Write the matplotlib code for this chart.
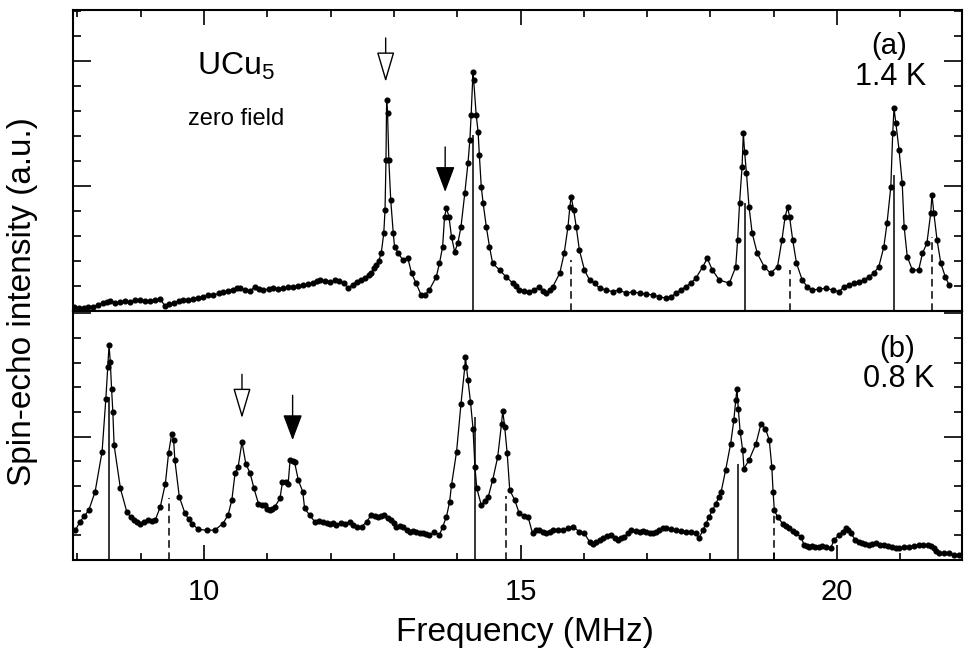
import matplotlib
matplotlib.use('Agg')
import matplotlib.pyplot as plt
from matplotlib.ticker import MultipleLocator

plt.rcParams['font.family'] = ['Liberation Sans', 'DejaVu Sans']
plt.rcParams['mathtext.fontset'] = 'custom'
plt.rcParams['mathtext.rm'] = 'Liberation Sans'

# (a) 1.4 K zero-field spectrum
top_freq = [7.94, 8.02, 8.10, 8.17, 8.25, 8.33, 8.41, 8.47, 8.52, 8.60, 8.67, 8.75,
            8.83, 8.91, 8.99, 9.07, 9.15, 9.23, 9.31, 9.38, 9.45, 9.52, 9.60, 9.67,
            9.75, 9.83, 9.91, 9.99, 10.07, 10.15, 10.23, 10.30, 10.38, 10.46, 10.52,
            10.57, 10.65, 10.73, 10.80, 10.87, 10.94, 11.02, 11.09, 11.17, 11.25, 11.33,
            11.41, 11.49, 11.57, 11.65, 11.72, 11.78, 11.83, 11.91, 11.99, 12.07, 12.14,
            12.21, 12.28, 12.35, 12.41, 12.48, 12.54, 12.60, 12.64, 12.68, 12.72, 12.76,
            12.80, 12.84, 12.86, 12.875, 12.885, 12.90, 12.92, 12.95, 12.99, 13.01, 13.07,
            13.14, 13.22, 13.28, 13.35, 13.43, 13.49, 13.56, 13.67, 13.72, 13.77, 13.80,
            13.83, 13.87, 13.91, 13.96, 14.01, 14.06, 14.12, 14.17, 14.20, 14.22, 14.25,
            14.26, 14.30, 14.33, 14.35, 14.38, 14.41, 14.46, 14.51, 14.56, 14.67, 14.77,
            14.88, 14.93, 14.98, 15.06, 15.14, 15.22, 15.30, 15.36, 15.41, 15.46, 15.51,
            15.62, 15.69, 15.75, 15.78, 15.80, 15.84, 15.88, 15.93, 16.01, 16.09, 16.17,
            16.25, 16.35, 16.46, 16.56, 16.67, 16.77, 16.88, 16.98, 17.09, 17.19, 17.30,
            17.38, 17.46, 17.53, 17.61, 17.69, 17.77, 17.88, 17.95, 18.03, 18.14, 18.30,
            18.40, 18.43, 18.46, 18.50, 18.52, 18.54, 18.57, 18.61, 18.66, 18.74, 18.85,
            18.95, 19.06, 19.13, 19.18, 19.22, 19.25, 19.30, 19.36, 19.45, 19.53, 19.61,
            19.72, 19.82, 19.93, 20.03, 20.11, 20.19, 20.27, 20.35, 20.43, 20.50, 20.58,
            20.66, 20.74, 20.79, 20.85, 20.88, 20.90, 20.93, 20.98, 21.03, 21.06, 21.11,
            21.19, 21.29, 21.35, 21.42, 21.48, 21.50, 21.53, 21.58, 21.64, 21.71, 21.77]
top_int = [0.17, 0.12, 0.13, 0.16, 0.17, 0.24, 0.31, 0.36, 0.40, 0.33, 0.35, 0.38,
           0.37, 0.42, 0.44, 0.39, 0.40, 0.45, 0.48, 0.21, 0.27, 0.31, 0.38, 0.44,
           0.43, 0.48, 0.53, 0.57, 0.62, 0.64, 0.70, 0.75, 0.80, 0.84, 0.90,
           0.91, 0.85, 0.80, 0.97, 0.86, 0.84, 0.88, 0.91, 0.89, 0.91, 0.95,
           0.97, 1.01, 1.04, 1.08, 1.11, 1.18, 1.24, 1.20, 1.17, 1.22, 1.20,
           1.10, 0.93, 1.05, 1.17, 1.24, 1.31, 1.45, 1.51, 1.70, 1.84, 2.00,
           2.31, 3.11, 4.04, 6.04, 8.44, 7.91, 6.04, 4.44, 3.11, 2.57, 2.31,
           2.04, 2.11, 1.51, 1.11, 0.64, 0.64, 0.84, 1.37, 1.91, 2.57, 3.77,
           4.11, 3.77, 2.97, 2.37, 2.71, 3.37, 4.71, 5.91, 6.84, 7.84, 9.57,
           9.24, 7.84, 7.17, 6.24, 4.97, 4.31, 3.37, 2.57, 1.91, 1.64, 1.37,
           1.11, 0.98, 0.84, 0.80, 0.77, 0.85, 0.97, 0.80, 0.71, 0.82, 0.97,
           1.51, 2.31, 3.37, 4.17, 4.57, 4.04, 3.37, 2.44, 1.64, 1.24, 1.11,
           0.91, 0.84, 0.77, 0.84, 0.71, 0.77, 0.71, 0.68, 0.64, 0.57, 0.51,
           0.57, 0.71, 0.84, 0.97, 1.11, 1.31, 1.77, 2.11, 1.64, 1.24, 1.11,
           1.77, 2.84, 4.31, 5.77, 7.11, 6.37, 5.51, 4.17, 3.11, 2.31, 1.77,
           1.51, 1.77, 2.84, 3.77, 4.15, 3.77, 2.84, 1.91, 1.24, 0.97, 0.84,
           0.87, 0.91, 0.84, 0.77, 0.97, 1.04, 1.11, 1.17, 1.24, 1.37, 1.51,
           1.77, 2.57, 3.51, 4.97, 7.11, 8.11, 7.51, 6.44, 5.11, 3.37, 2.17,
           1.64, 1.64, 2.31, 2.71, 3.91, 4.64, 3.91, 2.84, 1.91, 1.37, 1.04]

top_solid_f = [14.25, 18.55, 20.90]
top_solid_h = [7.04, 4.32, 5.44]
top_dashed_f = [15.80, 19.25, 21.50]
top_dashed_h = [2.04, 1.64, 2.96]

# (b) 0.8 K spectrum
bot_freq = [7.97, 8.04, 8.11, 8.18, 8.28, 8.39, 8.45, 8.48, 8.50, 8.52, 8.54, 8.56,
            8.58, 8.68, 8.78, 8.84, 8.89, 8.94, 8.99, 9.05, 9.12, 9.18, 9.23, 9.31,
            9.39, 9.44, 9.49, 9.52, 9.54, 9.61, 9.70, 9.76, 9.81, 9.91, 10.04, 10.17,
            10.30, 10.38, 10.44, 10.49, 10.54, 10.60, 10.66, 10.73, 10.79, 10.86, 10.91,
            10.96, 11.00, 11.04, 11.08, 11.12, 11.20, 11.24, 11.29, 11.33, 11.36, 11.40,
            11.43, 11.49, 11.56, 11.59, 11.67, 11.75, 11.81, 11.88, 11.94, 11.99, 12.04,
            12.09, 12.17, 12.23, 12.30, 12.36, 12.41, 12.49, 12.57, 12.64, 12.70, 12.75,
            12.80, 12.85, 12.91, 12.96, 13.00, 13.04, 13.09, 13.14, 13.20, 13.25, 13.30,
            13.35, 13.41, 13.46, 13.51, 13.56, 13.64, 13.72, 13.77, 13.83, 13.88, 13.91,
            13.99, 14.06, 14.12, 14.13, 14.17, 14.21, 14.25, 14.28, 14.31, 14.38, 14.44,
            14.49, 14.56, 14.64, 14.70, 14.72, 14.75, 14.79, 14.83, 14.91, 14.98, 15.05,
            15.12, 15.19, 15.25, 15.30, 15.36, 15.41, 15.46, 15.51, 15.59, 15.67, 15.75,
            15.83, 15.93, 16.01, 16.09, 16.14, 16.19, 16.25, 16.30, 16.37, 16.43, 16.49,
            16.54, 16.59, 16.64, 16.70, 16.75, 16.82, 16.88, 16.93, 16.98, 17.04, 17.09,
            17.14, 17.19, 17.25, 17.30, 17.38, 17.46, 17.54, 17.61, 17.69, 17.77, 17.82,
            17.88, 17.93, 17.98, 18.03, 18.09, 18.13, 18.17, 18.24, 18.32, 18.37, 18.40,
            18.42, 18.44, 18.47, 18.51, 18.53, 18.61, 18.72, 18.80, 18.87, 18.93, 18.97,
            18.99, 19.01, 19.06, 19.14, 19.19, 19.24, 19.30, 19.35, 19.43, 19.48, 19.52,
            19.56, 19.61, 19.66, 19.72, 19.77, 19.82, 19.90, 19.95, 20.03, 20.09, 20.14,
            20.18, 20.22, 20.29, 20.34, 20.40, 20.45, 20.51, 20.56, 20.61, 20.68, 20.74,
            20.80, 20.87, 20.93, 20.98, 21.06, 21.14, 21.21, 21.29, 21.36, 21.43, 21.48,
            21.53, 21.57, 21.61, 21.69, 21.77, 21.85, 21.93, 22.00]
bot_int = [1.21, 1.55, 1.78, 2.02, 2.77, 4.39, 6.55, 7.83, 8.70, 8.03, 6.95, 6.01,
           4.66, 2.90, 1.96, 1.75, 1.62, 1.55, 1.48, 1.55, 1.62, 1.60, 1.62, 2.16,
           3.10, 4.32, 5.13, 4.86, 4.05, 2.56, 1.89, 1.65, 1.48, 1.24, 1.21, 1.21,
           1.48, 1.82, 2.43, 3.51, 3.78, 4.79, 3.91, 3.51, 2.90, 2.29, 2.25,
           2.23, 2.08, 2.02, 2.05, 2.16, 2.50, 3.17, 3.15, 3.10, 4.05, 4.00,
           3.98, 3.24, 2.77, 2.09, 1.82, 1.55, 1.58, 1.55, 1.50, 1.48, 1.50,
           1.42, 1.51, 1.48, 1.55, 1.42, 1.35, 1.35, 1.55, 1.82, 1.78, 1.75,
           1.80, 1.82, 1.70, 1.62, 1.50, 1.35, 1.38, 1.35, 1.22, 1.15, 1.18,
           1.15, 1.10, 1.08, 1.05, 1.01, 1.15, 1.01, 1.35, 1.75, 2.36, 3.04,
           4.39, 6.34, 7.83, 8.23, 7.29, 6.41, 5.33, 3.78, 2.90, 2.23, 2.40,
           2.56, 3.24, 4.18, 5.53, 6.04, 5.40, 4.32, 2.83, 2.43, 1.89, 1.80,
           1.75, 1.08, 1.20, 1.21, 1.15, 1.08, 1.15, 1.21, 1.22, 1.21, 1.30,
           1.35, 1.15, 1.08, 0.74, 0.65, 0.74, 0.80, 0.88, 0.96, 1.01, 0.90,
           0.81, 0.88, 0.94, 1.10, 1.21, 1.18, 1.15, 1.18, 1.15, 1.10, 1.08,
           1.15, 1.21, 1.28, 1.31, 1.25, 1.21, 1.18, 1.15, 1.12, 1.08, 0.88,
           1.21, 1.48, 1.75, 2.02, 2.29, 2.55, 2.77, 3.64, 4.72, 5.67, 6.48,
           6.95, 6.14, 5.20, 4.45, 3.71, 4.05, 4.72, 5.53, 5.33, 4.86, 3.78,
           2.77, 2.02, 1.75, 1.48, 1.38, 1.28, 1.18, 1.08, 0.94, 0.61, 0.58,
           0.54, 0.56, 0.54, 0.52, 0.55, 0.54, 0.47, 0.81, 1.01, 1.15, 1.28,
           1.20, 1.08, 0.81, 0.72, 0.67, 0.64, 0.61, 0.66, 0.67, 0.62, 0.61,
           0.58, 0.54, 0.50, 0.47, 0.52, 0.54, 0.58, 0.61, 0.60, 0.61, 0.55,
           0.47, 0.35, 0.27, 0.27, 0.27, 0.22, 0.21, 0.20]

bot_solid_f = [8.50, 14.28, 18.43]
bot_solid_h = [6.61, 5.80, 3.91]
bot_dashed_f = [9.45, 14.77, 19.01]
bot_dashed_h = [2.50, 2.60, 2.02]

fig = plt.figure(figsize=(9.65, 6.48), dpi=100)
ax1 = fig.add_axes([0.0756, 0.5201, 0.921, 0.4645])
ax2 = fig.add_axes([0.0756, 0.1358, 0.921, 0.3843])

for ax, f, v, sf, sh, df, dh, top in [
        (ax1, top_freq, top_int, top_solid_f, top_solid_h, top_dashed_f, top_dashed_h, 12.04),
        (ax2, bot_freq, bot_int, bot_solid_f, bot_solid_h, bot_dashed_f, bot_dashed_h, 10.1)]:
    ax.plot(f, v, '-', color='k', lw=0.9, marker='o', ms=3.4)
    ax.vlines(sf, 0, sh, color='k', lw=1.1)
    ax.vlines(df, 0, dh, color='k', lw=1.1, linestyles=(0, (5, 3)))
    ax.set_xlim(7.93, 21.97)
    ax.set_ylim(0, top)
    ax.xaxis.set_major_locator(MultipleLocator(5))
    ax.xaxis.set_minor_locator(MultipleLocator(1))
    ax.yaxis.set_major_locator(MultipleLocator(5))
    ax.yaxis.set_minor_locator(MultipleLocator(1))
    ax.tick_params(axis='y', which='both', direction='in', left=True, right=True,
                   labelleft=False, width=1.2)
    ax.tick_params(axis='y', which='major', length=13)
    ax.tick_params(axis='y', which='minor', length=6)
    ax.tick_params(axis='x', which='major', length=11, width=1.2)
    ax.tick_params(axis='x', which='minor', length=5, width=1.2)
    for s in ax.spines.values():
        s.set_linewidth(1.5)

ax1.tick_params(axis='x', which='both', direction='in', top=True, bottom=False,
                labelbottom=False)
ax2.tick_params(axis='x', which='both', direction='in', top=False, bottom=True,
                labelsize=21, pad=13)

# arrows marking the extra lines
open_kw = dict(arrowstyle='-|>,head_length=0.95,head_width=0.28', fc='white', ec='k',
               lw=1.0, shrinkA=0, shrinkB=0, mutation_scale=20)
full_kw = dict(arrowstyle='-|>,head_length=0.8,head_width=0.3', fc='k', ec='k',
               lw=1.0, shrinkA=0, shrinkB=0, mutation_scale=20)
ax1.annotate('', xy=(12.87, 9.16), xytext=(12.87, 10.92), arrowprops=open_kw)
ax1.annotate('', xy=(13.81, 4.76), xytext=(13.81, 6.56), arrowprops=full_kw)
ax2.annotate('', xy=(10.60, 5.75), xytext=(10.60, 7.53), arrowprops=open_kw)
ax2.annotate('', xy=(11.40, 4.86), xytext=(11.40, 6.68), arrowprops=full_kw)

ax1.text(9.89, 9.44, r'UCu$_5$', fontsize=23, ha='left', va='baseline')
ax1.text(9.75, 7.44, 'zero field', fontsize=17, ha='left', va='baseline')
ax1.text(20.82, 10.28, '(a)', fontsize=21, ha='center', va='baseline')
ax1.text(20.85, 9.04, '1.4 K', fontsize=22, ha='center', va='baseline')
ax2.text(20.95, 8.22, '(b)', fontsize=21, ha='center', va='baseline')
ax2.text(20.98, 7.00, '0.8 K', fontsize=22, ha='center', va='baseline')

fig.text(0.544, 0.024, 'Frequency (MHz)', fontsize=24, ha='center', va='center')
fig.text(0.0228, 0.535, 'Spin-echo intensity (a.u.)', fontsize=24, rotation=90,
         ha='center', va='center')

fig.savefig('out.png', dpi=100)
